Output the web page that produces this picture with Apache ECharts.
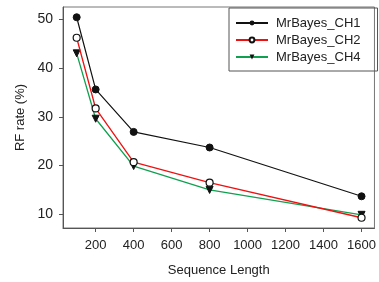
<!DOCTYPE html>
<html>
<head>
<meta charset="utf-8">
<script src="https://cdn.jsdelivr.net/npm/echarts@6/dist/echarts.min.js"></script>
<style>
  html, body { margin: 0; padding: 0; background: #fff; }
  #chart { width: 379px; height: 282px; }
</style>
</head>
<body>
<div id="chart"></div>
<script>
// 序列长度
const lengths = [100, 200, 400, 800, 1600]
// RF rate (%)
const ch1 = [50.4, 35.6, 26.9, 23.7, 13.7]
const ch2 = [46.2, 31.7, 20.7, 16.5, 9.3]
const ch4 = [43.0, 29.6, 19.9, 15.0, 9.9]
const xTicks = [200, 400, 600, 800, 1000, 1200, 1400, 1600]
const yTicks = [10, 20, 30, 40, 50]

const font = 'Liberation Sans, Arial, Helvetica, sans-serif'
const textColor = '#222'

function pairs(ys) {
    return lengths.map((x, i) => [x, ys[i]])
}

let myChart = echarts.init(document.getElementById('chart'))

let option = {
    animation: false,
    grid: {
        left: 63,
        right: 2,
        top: 7,
        bottom: 54,
        show: true,
        borderColor: '#777',
        borderWidth: 1
    },
    legend: {
        orient: 'vertical',
        left: 229,
        top: 8,
        padding: [8, 17, 7, 6],
        itemGap: 3,
        itemWidth: 32,
        itemHeight: 6,
        borderColor: '#555',
        borderWidth: 1,
        textStyle: {
            fontFamily: font,
            fontSize: 13,
            lineHeight: 14,
            color: textColor,
            padding: [0, 0, 0, 3]
        },
        data: ['MrBayes_CH1', 'MrBayes_CH2', 'MrBayes_CH4']
    },
    xAxis: {
        type: 'value',
        min: 28,
        max: 1668,
        name: 'Sequence Length',
        nameLocation: 'middle',
        nameGap: 36,
        nameTextStyle: { fontFamily: font, fontSize: 13, color: textColor },
        axisLine: { show: true, lineStyle: { color: '#555', width: 1 } },
        axisTick: { show: true, length: 4, customValues: xTicks, lineStyle: { color: '#555' } },
        axisLabel: {
            customValues: xTicks,
            margin: 11,
            fontFamily: font,
            fontSize: 13,
            color: textColor,
            formatter: v => String(v)
        },
        splitLine: { show: false }
    },
    yAxis: {
        type: 'value',
        min: 7.2,
        max: 52.5,
        name: 'RF rate (%)',
        nameLocation: 'middle',
        nameGap: 36,
        nameRotate: 90,
        nameTextStyle: { fontFamily: font, fontSize: 13, color: textColor },
        axisLine: { show: true, lineStyle: { color: '#555', width: 1 } },
        axisTick: { show: true, length: 4, customValues: yTicks, lineStyle: { color: '#555' } },
        axisLabel: { customValues: yTicks, margin: 10, fontFamily: font, fontSize: 14, color: textColor },
        splitLine: { show: false }
    },
    series: [
        {
            name: 'MrBayes_CH1',
            type: 'line',
            data: pairs(ch1),
            symbol: 'circle',
            symbolSize: 7,
            lineStyle: { color: '#111', width: 1.2 },
            itemStyle: { color: '#111', borderColor: '#111' },
            z: 3
        },
        {
            name: 'MrBayes_CH2',
            type: 'line',
            data: pairs(ch2),
            symbol: 'circle',
            symbolSize: 7,
            lineStyle: { color: '#ee1111', width: 1.3 },
            itemStyle: { color: '#fff', borderColor: '#111', borderWidth: 1.2 },
            z: 2
        },
        {
            name: 'MrBayes_CH4',
            type: 'line',
            data: pairs(ch4),
            symbol: 'triangle',
            symbolRotate: 180,
            symbolSize: 7,
            lineStyle: { color: '#11a050', width: 1.3 },
            itemStyle: { color: '#111', borderColor: '#111' },
            z: 1
        }
    ]
}

myChart.setOption(option)
</script>
</body>
</html>
